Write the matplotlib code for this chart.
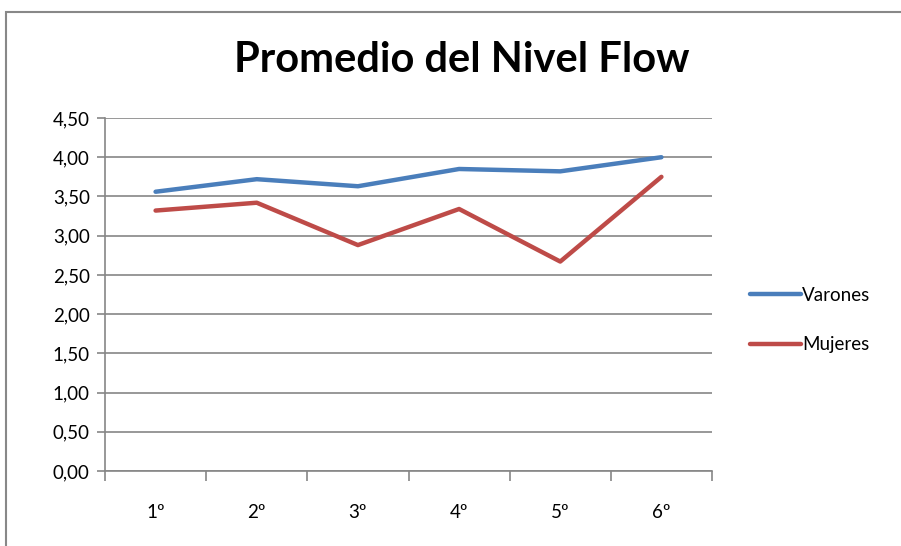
import numpy as np
import matplotlib.pyplot as plt
from matplotlib.patches import Rectangle
from matplotlib.ticker import FixedLocator, NullFormatter

plt.rcParams['font.family'] = ['Lato', 'DejaVu Sans']

cursos = ['1º', '2º', '3º', '4º', '5º', '6º']
varones = [3.56, 3.72, 3.63, 3.85, 3.82, 4.00]
mujeres = [3.32, 3.42, 2.88, 3.34, 2.67, 3.75]
y_ticks = [0, 0.5, 1, 1.5, 2, 2.5, 3, 3.5, 4, 4.5]

W, H = 901, 546
fig = plt.figure(figsize=(W / 100, H / 100), dpi=100)

# marco del gráfico (sale por la derecha y abajo)
fig.patches.append(Rectangle((6 / W, -0.1), 1.2, 1 - 12 / H + 0.1, transform=fig.transFigure,
                             fill=False, edgecolor='#888888', lw=1.5))

ax = fig.add_axes([105 / W, 1 - 471 / H, (712 - 105) / W, (471 - 118) / H])
x = np.arange(len(cursos)) + 0.5
ax.plot(x, varones, color='#4A7EBB', lw=3.2, solid_capstyle='round', label='Varones')
ax.plot(x, mujeres, color='#BE4B48', lw=3.2, solid_capstyle='round', label='Mujeres')

ax.set_xlim(0, len(cursos))
ax.set_ylim(0, 4.5)
ax.set_yticks(y_ticks)
ax.set_yticklabels([f'{v:.2f}'.replace('.', ',') for v in y_ticks])
ax.yaxis.grid(True, color='#868686', lw=1.2)
ax.set_axisbelow(True)

ax.xaxis.set_major_locator(FixedLocator(np.arange(len(cursos) + 1)))
ax.xaxis.set_major_formatter(NullFormatter())
ax.xaxis.set_minor_locator(FixedLocator(x))
ax.set_xticklabels(cursos, minor=True)
ax.tick_params(axis='x', which='minor', length=0, pad=24, labelsize=13.5)
ax.tick_params(axis='x', which='major', length=7, width=1.2, color='#868686', direction='out')
ax.tick_params(axis='y', length=6, width=1.2, color='#868686', direction='out', labelsize=13.5, pad=5)

for s in ['top', 'right']:
    ax.spines[s].set_visible(False)
for s in ['left', 'bottom']:
    ax.spines[s].set_color('#868686')
    ax.spines[s].set_linewidth(1.2)

fig.text(462 / W, 1 - 60 / H, 'Promedio del Nivel Flow', ha='center', va='center',
         fontsize=30, fontweight='bold')

fig.legend(loc='center left', bbox_to_anchor=(733 / W, 1 - 320 / H), frameon=False,
           fontsize=13.5, handlelength=2.7, handletextpad=0.1, labelspacing=1.75)

fig.savefig('out.png', dpi=100)
